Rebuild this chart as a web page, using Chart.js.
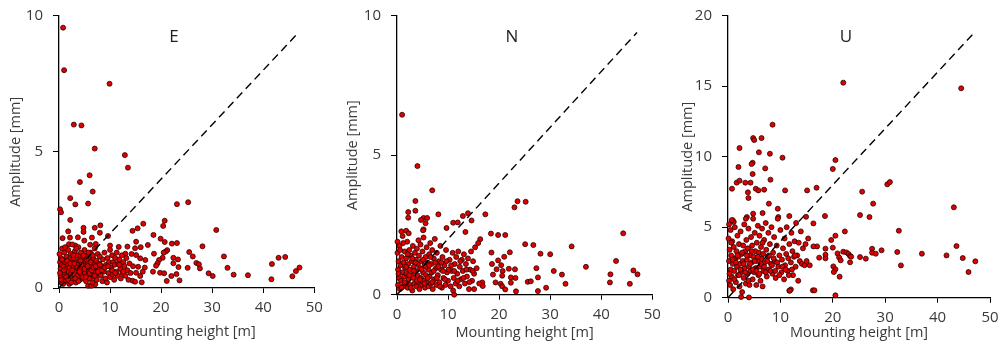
<!DOCTYPE html>
<html>
<head>
<meta charset="utf-8">
<script src="https://cdn.jsdelivr.net/npm/chart.js@4.4.1/dist/chart.umd.min.js"></script>
<style>
  html, body { margin: 0; padding: 0; background: #fff; }
  body { width: 1003px; height: 345px; position: relative; overflow: hidden; }
  canvas { position: absolute; top: 0; }
</style>
</head>
<body>
<canvas id="chartE" width="330" height="345" style="left:0px"></canvas>
<canvas id="chartN" width="340" height="345" style="left:330px"></canvas>
<canvas id="chartU" width="333" height="345" style="left:670px"></canvas>
<script>
// tick values
const xTicks = [0, 10, 20, 30, 40, 50];
const yTicksEN = [0, 5, 10];
const yTicksU = [0, 5, 10, 15, 20];
const panelLabels = ['E', 'N', 'U'];

// dashed reference lines (amplitude vs mounting height)
const refLineEN = [[0, 0], [47, 9.4]];
const refLineU = [[0, 0], [47, 18.8]];

// [mounting height m, amplitude mm]
const ePoints = [
  [0.8,9.56],[1.0,8.0],[9.9,7.5],[2.9,6.0],[4.4,5.97],[7.0,5.12],[12.9,4.88],[13.5,4.42],[6.0,4.14],[4.1,3.89],
  [6.6,3.54],[2.2,3.30],[3.2,3.07],[5.7,3.10],[0.2,2.89],[0.4,2.78],[2.2,2.50],[23.1,3.08],[25.3,3.15],[30.8,2.13],
  [20.7,2.47],[20.4,2.28],[16.5,2.36],[15.4,2.19],[14.4,2.10],[18.5,1.95],[19.9,1.81],[20.7,1.69],[22.1,1.63],[23.1,1.65],
  [15.1,1.70],[16.0,1.50],[17.4,1.58],[28.1,1.53],[25.5,1.32],[26.2,1.16],[26.9,0.92],[27.4,0.87],[27.6,0.72],[32.3,1.16],
  [33.0,0.74],[29.3,0.54],[30.1,0.44],[34.2,0.49],[37.0,0.47],[41.7,0.88],[41.6,0.32],[43.0,1.11],[44.3,1.14],[45.7,0.43],
  [46.4,0.62],[47.1,0.75],[18.6,1.26],[21.2,1.39],[20.9,1.34],[20.5,1.30],[20.3,1.11],[22.4,1.11],[23.3,1.05],[19.6,1.03],
  [19.3,0.91],[19.0,0.82],[16.9,1.03],[16.8,0.75],[15.9,1.09],[15.9,0.44],[16.4,0.60],[16.2,0.21],[22.4,0.91],[23.4,0.77],
  [25.2,0.74],[18.4,0.60],[19.8,0.56],[20.6,0.54],[22.0,0.44],[23.0,0.51],[21.1,0.26],[23.6,0.28],
  [1.8,2.08],[4.8,2.21],[4.8,2.06],[7.0,2.21],[8.1,2.30],[8.0,2.03],[0.7,1.83],[2.15,1.85],[3.7,1.86],[6.45,1.85],
  [4.95,1.74],[3.2,1.56],[1.95,1.61],[6.1,1.59],[7.2,1.62],[9.6,1.91],[10.0,1.56],[11.7,1.51],[13.4,1.52],[14.9,1.46],
  [13.0,1.26],[15.1,1.21],[15.5,0.78],[15.1,0.56],[14.4,0.27],[14.9,0.23],[5.7,0.08],[6.3,0.08],[7.1,0.14],
  [0.1,1.25],[0.2,0.95],[0.3,0.7],[0.3,0.45],[0.4,1.1],[0.5,0.85],[0.5,0.2],[0.6,1.45],[0.7,0.6],[0.8,1.0],
  [0.9,0.35],[0.9,0.8],[1.0,1.3],[1.1,0.55],[1.2,0.95],[1.3,0.25],[1.4,0.7],[1.5,1.15],[1.6,0.45],[1.7,0.9],
  [1.8,1.4],[1.9,0.6],[2.0,0.15],[2.0,1.05],[2.1,0.75],[2.2,0.4],[2.3,1.25],[2.4,0.55],[2.5,0.95],[2.6,1.6],
  [2.7,0.3],[2.8,0.8],[2.9,1.1],[3.0,0.5],[3.1,1.35],[3.2,0.7],[3.3,0.2],[3.4,0.95],[3.5,1.2],[3.6,0.45],
  [3.7,0.85],[3.8,1.5],[3.9,0.6],[4.0,1.05],[4.1,0.3],[4.2,0.75],[4.3,1.3],[4.4,0.5],[4.5,0.95],[4.6,1.15],
  [4.7,0.65],[4.8,0.35],[4.9,0.85],[5.0,1.4],[5.1,0.55],[5.2,1.0],[5.3,0.25],[5.4,0.75],[5.5,1.2],[5.6,0.45],
  [5.7,0.9],[5.8,0.6],[5.9,1.05],[6.0,0.35],[6.1,0.8],[6.2,1.3],[6.3,0.5],[6.4,0.95],[6.5,0.2],[6.6,0.7],
  [6.7,1.1],[6.8,0.4],[6.9,0.85],[7.0,1.45],[7.2,0.6],[7.3,1.0],[7.4,0.3],[7.5,0.75],[7.6,1.25],[7.8,0.5],
  [7.9,0.9],[8.0,1.15],[8.2,0.45],[8.3,0.8],[8.5,0.25],[8.6,1.05],[8.8,0.6],[8.9,1.3],[9.1,0.35],[9.2,0.85],
  [9.4,0.2],[9.5,1.1],[9.7,0.55],[9.8,0.95],[10.0,0.4],[10.0,1.4],[10.2,0.75],[10.4,1.2],[10.5,0.5],[10.6,0.95],
  [10.8,0.3],[10.9,0.85],[11.0,1.1],[11.2,0.6],[11.3,1.3],[11.5,0.45],[11.6,0.9],[11.8,1.05],[12.0,0.7],[12.1,0.35],
  [12.3,1.2],[12.4,0.55],[12.6,0.95],[12.8,0.8],[13.0,0.45],[13.2,1.1],[13.4,0.65],[13.6,0.3],[13.8,0.9],[14.0,0.55],
  [14.2,1.25],[14.5,0.8],
  [0.2,0.55],[0.4,0.3],[0.6,1.05],[0.8,0.15],[1.0,0.65],[1.2,1.5],[1.4,0.4],[1.6,1.0],[1.8,0.3],[2.2,0.9],
  [2.4,0.2],[2.6,0.65],[2.8,1.2],[3.0,0.9],[3.2,0.35],[3.4,1.45],[3.6,0.75],[3.8,0.25],[4.0,0.6],[4.2,1.0],
  [4.4,0.85],[4.6,0.4],[4.8,1.2],[5.0,0.7],[5.2,0.4],[5.4,1.05],[5.6,0.8],[5.8,1.3],[6.0,0.55],[6.2,0.95],
  [6.4,0.65],[6.6,1.2],[6.8,0.75],[7.0,0.45],[7.2,0.8],[7.6,0.6],[8.0,0.85],[8.4,0.65],[9.0,0.75],[9.6,0.8],
  [10.4,0.65],[11.0,0.55],[11.8,0.85],[12.6,0.6]
];

const nPoints = [
  [1.0,6.45],[4.0,4.61],[6.9,3.74],[3.6,3.36],[3.6,3.01],[2.2,2.96],[2.2,2.76],[5.2,2.75],[5.9,2.75],[8.1,2.88],
  [4.7,2.68],[5.2,2.34],[9.7,2.39],[11.0,2.58],[11.9,2.59],[12.9,2.82],[13.9,2.92],[14.6,2.66],[13.4,2.25],[17.3,2.88],
  [23.0,3.13],[23.6,3.35],[25.2,3.33],[18.4,2.19],[19.8,2.14],[21.2,2.14],[25.1,1.81],[26.7,1.78],[34.2,1.73],[44.3,2.20],
  [18.5,1.51],[22.1,1.52],[21.0,1.36],[19.8,1.23],[18.6,1.10],[20.4,1.06],[19.5,0.91],[20.7,0.85],[21.9,0.93],[23.1,0.91],
  [27.3,0.95],[18.8,0.72],[20.6,0.68],[22.3,0.62],[23.2,0.60],[30.7,0.85],[32.3,0.72],[27.6,0.62],[19.3,0.44],[20.3,0.39],
  [20.6,0.30],[22.3,0.43],[25.6,0.46],[26.2,0.48],[33.0,0.39],[29.2,0.25],[21.2,0.19],[23.3,0.12],[27.6,0.13],[16.7,0.44],
  [16.8,0.31],[16.3,1.99],[28.1,1.47],[30.0,1.45],[37.0,1.00],[42.9,1.21],[41.8,0.73],[41.7,0.44],[45.6,0.39],[46.3,0.87],
  [47.1,0.73],[11.2,0.0],[15.1,0.20],[0.85,2.27],[1.8,2.29],[2.3,2.20],[0.1,1.90],[5.1,2.31],[5.6,2.56],
  [0.1,1.5],[0.2,0.9],[0.2,0.35],[0.3,1.2],[0.4,0.6],[0.5,1.75],[0.6,0.2],[0.7,1.05],[0.8,0.5],[0.9,1.35],
  [1.0,0.8],[1.1,2.1],[1.2,0.3],[1.3,1.15],[1.4,0.65],[1.5,1.55],[1.6,0.95],[1.7,0.4],[1.8,1.3],[1.9,0.75],
  [2.0,1.9],[2.1,0.25],[2.2,1.1],[2.3,0.55],[2.4,1.6],[2.5,0.9],[2.6,0.35],[2.7,1.4],[2.8,0.7],[2.9,1.2],
  [3.0,0.15],[3.1,1.75],[3.2,0.6],[3.3,1.0],[3.4,0.4],[3.5,1.5],[3.6,0.85],[3.7,1.25],[3.8,0.3],[3.9,1.65],
  [4.0,0.7],[4.1,1.1],[4.2,0.45],[4.3,1.4],[4.4,0.2],[4.5,0.95],[4.6,1.8],[4.7,0.6],[4.8,1.2],[4.9,0.35],
  [5.0,1.55],[5.1,0.8],[5.2,2.05],[5.3,0.5],[5.4,1.05],[5.5,0.25],[5.6,1.35],[5.7,0.7],[5.8,1.7],[5.9,0.45],
  [6.0,1.15],[6.1,0.9],[6.2,0.3],[6.3,1.45],[6.4,0.65],[6.5,1.85],[6.6,0.4],[6.7,1.1],[6.8,0.8],[6.9,1.6],
  [7.0,0.2],[7.2,1.3],[7.3,0.55],[7.4,2.0],[7.6,0.95],[7.7,0.35],[7.8,1.5],[8.0,0.7],[8.2,1.2],[8.3,0.45],
  [8.5,1.75],[8.6,0.9],[8.8,0.25],[8.9,1.35],[9.1,0.6],[9.3,1.05],[9.5,0.35],[9.6,1.6],[9.8,0.8],[10.0,0.5],
  [10.3,1.25],[10.5,0.3],[10.7,0.85],[10.9,1.5],[11.0,0.15],[11.1,0.6],[11.3,1.1],[11.5,0.4],[11.6,1.35],[11.8,0.75],
  [12.0,1.55],[12.2,0.3],[12.3,1.0],[12.5,0.55],[12.7,1.25],[12.9,0.85],[13.1,1.45],[13.3,0.4],[13.5,1.1],[13.7,0.65],
  [13.9,1.3],[14.1,0.2],[14.3,0.9],[14.5,1.55],[14.7,0.5],[14.9,1.2],[15.1,0.75],[15.3,1.7],[15.6,0.95],[15.9,1.85],
  [16.1,0.4],
  [0.3,0.75],[0.6,1.6],[0.9,0.25],[1.2,1.85],[1.5,0.45],[1.8,1.0],[2.1,1.45],[2.4,0.7],[2.7,0.25],[3.0,1.3],
  [3.3,0.85],[3.6,1.15],[3.9,0.5],[4.2,1.95],[4.5,0.55],[4.8,0.9],[5.1,1.25],[5.4,0.4],[5.7,1.0],[6.0,0.6],
  [6.3,1.05],[6.6,1.35],[6.9,0.45],[7.2,0.85],[7.5,1.15],[7.8,0.6],[8.1,1.0],[8.4,0.3],[8.7,1.15],[9.0,0.85],
  [9.4,0.55],[9.7,1.2],[10.1,0.9],[10.6,1.05],[11.2,0.85],[11.9,0.5],[12.4,1.2],[13.0,0.6],[13.6,0.9],[14.2,0.45],
  [14.8,0.85]
];

const uPoints = [
  [22.0,15.25],[44.5,14.85],[8.5,12.27],[4.8,11.32],[5.0,11.18],[6.4,11.32],[2.2,10.61],[5.9,10.31],[8.0,10.21],[10.4,9.93],
  [20.5,9.76],[20.0,9.13],[4.7,9.57],[4.5,9.48],[2.0,9.27],[7.1,9.17],[4.7,8.77],[8.1,8.37],[1.65,8.16],[2.2,8.30],
  [3.3,8.16],[4.3,8.16],[30.4,8.04],[30.9,8.20],[0.76,7.73],[5.3,7.73],[5.8,7.61],[6.9,7.66],[10.9,7.61],[15.1,7.61],
  [16.9,7.80],[25.6,7.52],[3.8,7.47],[3.9,7.07],[7.8,6.67],[27.7,6.67],[43.1,6.41],[9.5,6.31],[6.6,6.00],[4.8,5.96],
  [3.6,5.72],[3.4,5.60],[9.6,5.72],[11.7,5.79],[18.5,5.79],[25.2,5.86],[27.0,5.72],[14.9,5.74],[16.3,5.27],[32.6,4.75],
  [22.3,4.70],[0.9,5.5],[1.1,5.37],[20.5,4.40],[19.7,4.09],[43.6,3.66],[41.7,3.00],[27.5,3.47],[27.5,3.19],[29.3,3.36],
  [32.3,3.24],[37.0,3.12],[28.2,3.12],[33.0,2.29],[44.8,2.81],[47.2,2.58],[45.9,1.82],[20.9,3.14],[21.2,2.86],[21.5,2.65],
  [22.0,3.26],[22.6,3.21],[23.0,3.10],[23.3,2.95],[23.5,2.91],[25.2,2.88],[26.3,2.77],[23.3,2.51],[20.0,3.55],[18.6,3.48],
  [18.6,3.05],[18.6,2.79],[17.4,2.84],[17.0,3.64],[16.3,3.64],[20.1,2.22],[20.5,2.01],[20.2,1.82],[21.3,1.49],[20.5,0.17],
  [16.2,0.52],[16.5,0.52],[11.7,0.50],[12.0,0.59],[2.5,0.05],[4.0,0.02],
  [0.1,4.2],[0.2,2.6],[0.2,1.2],[0.3,3.4],[0.4,0.9],[0.5,4.8],[0.5,2.0],[0.6,3.0],[0.7,1.5],[0.8,4.0],
  [0.9,2.4],[1.0,0.6],[1.1,3.6],[1.2,1.9],[1.3,5.0],[1.4,2.8],[1.5,1.1],[1.6,3.3],[1.7,2.2],[1.8,4.4],
  [1.9,1.6],[2.0,2.9],[2.1,3.8],[2.2,0.8],[2.3,2.4],[2.4,4.7],[2.5,1.8],[2.6,3.1],[2.7,0.4],[2.8,2.6],
  [2.9,3.7],[3.0,1.4],[3.1,5.2],[3.2,2.1],[3.3,3.3],[3.4,1.0],[3.5,4.1],[3.6,2.7],[3.7,1.7],[3.8,3.5],
  [3.9,4.9],[4.0,2.2],[4.1,0.9],[4.2,3.0],[4.3,1.9],[4.4,4.3],[4.5,2.5],[4.6,3.7],[4.7,1.3],[4.8,5.6],
  [4.9,2.9],[5.0,1.8],[5.1,4.6],[5.2,3.3],[5.3,2.1],[5.4,0.9],[5.5,3.9],[5.6,2.6],[5.7,5.1],[5.8,1.6],
  [5.9,3.2],[6.0,4.4],[6.1,2.2],[6.2,1.2],[6.3,3.6],[6.4,2.8],[6.5,4.9],[6.6,0.8],[6.7,3.1],[6.8,1.9],
  [6.9,4.1],[7.0,2.5],[7.2,5.3],[7.3,3.4],[7.4,1.5],[7.6,2.9],[7.7,4.6],[7.8,2.0],[8.0,3.8],[8.2,2.4],
  [8.3,5.0],[8.5,1.7],[8.6,3.2],[8.8,4.3],[8.9,2.6],[9.1,1.4],[9.3,3.7],[9.5,5.6],[9.6,2.2],[9.8,3.0],
  [10.0,4.8],[10.2,1.8],[10.3,2.7],[10.5,3.5],[10.7,1.3],[10.8,4.2],[10.9,2.3],[11.1,3.1],[11.2,5.0],[11.4,1.9],
  [11.5,2.8],[11.7,3.8],[11.8,0.5],[12.0,2.5],[12.1,4.6],[12.3,3.3],[12.4,1.6],[12.6,2.9],[12.7,4.0],[12.9,2.2],
  [13.0,5.3],[13.2,3.0],[13.4,1.2],[13.5,3.9],[13.7,2.6],[13.9,4.7],[14.1,2.4],[14.3,3.5],[14.6,2.3],[14.8,3.8],
  [15.0,2.6],[15.3,4.2],[15.6,2.3],
  [0.3,1.7],[0.6,3.9],[0.9,2.7],[1.2,1.3],[1.5,2.5],[1.8,3.0],[2.1,1.6],[2.4,2.0],[2.7,3.2],[3.0,2.4],
  [3.3,1.8],[3.6,3.0],[3.9,1.2],[4.2,2.4],[4.5,3.3],[4.8,2.0],[5.1,2.6],[5.4,1.9],[5.7,2.9],[6.0,1.7],
  [6.3,2.4],[6.6,3.9],[6.9,2.2],[7.2,1.8],[7.5,2.6],[7.8,3.0],[8.1,1.9],[8.4,2.3],[8.7,2.8],[9.0,1.9],
  [9.4,2.5],[9.8,1.6],[10.4,2.2],[11.0,2.0],[11.6,1.6],[12.2,2.0],[12.8,3.0],[0.2,5.2],[0.7,5.5]
];

const fontFamily = '"Open Sans", "Noto Sans", sans-serif';
const tickFont = { family: fontFamily, size: 15 };
const titleFont = { family: fontFamily, size: 14.5 };
const textColor = '#3a3a3a';

// draws the E / N / U letter inside each panel
const panelLabel = {
  id: 'panelLabel',
  afterDraw(chart, args, opts) {
    const { ctx, chartArea, scales } = chart;
    ctx.save();
    ctx.font = '17px ' + fontFamily;
    ctx.fillStyle = '#1e1e1e';
    ctx.textAlign = 'center';
    ctx.textBaseline = 'middle';
    ctx.fillText(opts.text, scales.x.getPixelForValue(22.5), chartArea.top + 21);
    ctx.restore();
  }
};

function makePanel(id, points, refLine, yTicks, label, box) {
  new Chart(document.getElementById(id), {
    type: 'scatter',
    data: {
      datasets: [
        {
          type: 'line',
          data: refLine.map(p => ({ x: p[0], y: p[1] })),
          borderColor: '#000',
          borderWidth: 1.4,
          borderDash: [8, 5],
          pointRadius: 0,
          fill: false,
          clip: false
        },
        {
          data: points.map(p => ({ x: p[0], y: p[1] })),
          pointRadius: 2.5,
          pointBackgroundColor: '#e00000',
          pointBorderColor: '#2a0000',
          pointBorderWidth: 0.8,
          clip: false
        }
      ]
    },
    options: {
      responsive: false,
      animation: false,
      events: [],
      layout: { padding: { left: 0, right: box.padRight, top: 15.7, bottom: 0 } },
      plugins: {
        legend: { display: false },
        tooltip: { enabled: false },
        panelLabel: { text: label }
      },
      scales: {
        x: {
          type: 'linear',
          min: 0,
          max: 50,
          afterBuildTicks: s => { s.ticks = xTicks.map(v => ({ value: v })); },
          afterFit: s => { s.height = box.xAxisH; s.paddingLeft = 0; s.paddingRight = 0; },
          border: { color: '#000', width: 1.3 },
          grid: { drawOnChartArea: false, color: '#000', tickLength: 5 },
          ticks: { padding: 6, color: textColor, font: tickFont, maxRotation: 0 },
          title: { display: true, text: 'Mounting height [m]', color: textColor, font: titleFont, padding: { top: 0, bottom: box.xTitlePad } }
        },
        y: {
          type: 'linear',
          min: 0,
          max: yTicks[yTicks.length - 1],
          afterBuildTicks: s => { s.ticks = yTicks.map(v => ({ value: v })); },
          afterFit: s => { s.width = box.yAxisW; s.paddingTop = 0; s.paddingBottom = 0; },
          border: { color: '#000', width: 1.3 },
          grid: { drawOnChartArea: false, color: '#000', tickLength: 6 },
          ticks: { padding: 10, color: textColor, font: tickFont },
          title: { display: true, text: 'Amplitude [mm]', color: textColor, font: titleFont, padding: { top: box.yTitlePad, bottom: 0 } }
        }
      }
    },
    plugins: [panelLabel]
  });
}

makePanel('chartE', ePoints, refLineEN, yTicksEN, panelLabels[0], { yAxisW: 59, padRight: 15.7, xAxisH: 57, xTitlePad: 4.5, yTitlePad: 7.3 });
makePanel('chartN', nPoints, refLineEN, yTicksEN, panelLabels[1], { yAxisW: 67, padRight: 17.7, xAxisH: 50.3, xTitlePad: 3.8, yTitlePad: 14.6 });
makePanel('chartU', uPoints, refLineU, yTicksU, panelLabels[2], { yAxisW: 58, padRight: 13, xAxisH: 47.3, xTitlePad: 3.5, yTitlePad: 9.6 });
</script>
</body>
</html>
